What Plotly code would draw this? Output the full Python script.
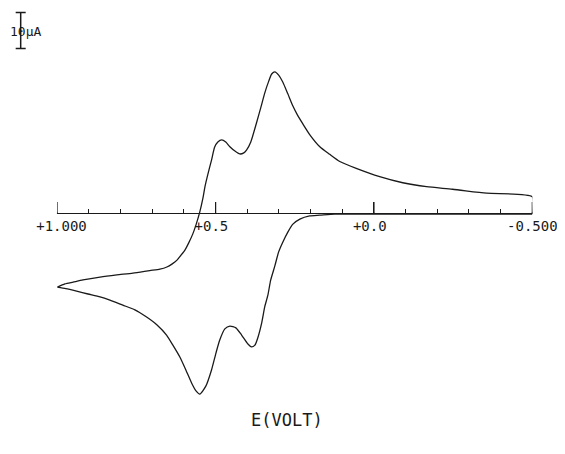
import plotly.graph_objects as go

# Potential (V) and current (uA)
# Reverse (lower) branch: from -0.500 V toward the +1.000 V vertex
E_lower = [-0.500, -0.397, -0.239, -0.081, 0.045, 0.124, 0.171, 0.203, 0.234, 0.256,
           0.272, 0.288, 0.301, 0.313, 0.326, 0.335, 0.345, 0.354, 0.367, 0.376,
           0.387, 0.398, 0.418, 0.436, 0.455, 0.471, 0.487, 0.499, 0.513, 0.531,
           0.550, 0.562, 0.576, 0.594, 0.613, 0.635, 0.655, 0.685, 0.718, 0.755,
           0.793, 0.834, 0.865, 0.903, 0.939, 0.973, 1.000]
I_lower = [-0.3, -0.3, -0.3, -0.3, -0.3, -0.3, -0.6, -0.8, -1.7, -3.1,
           -5.3, -8.1, -10.8, -14.7, -18.6, -22.8, -26.1, -30.3, -34.7, -36.7,
           -37.2, -36.4, -33.9, -31.9, -31.4, -32.2, -35.3, -38.9, -43.6, -48.1,
           -50.3, -49.4, -47.2, -43.6, -40.0, -36.7, -33.9, -31.1, -28.9, -26.9,
           -25.6, -24.2, -23.3, -22.5, -21.7, -21.0, -20.6]

# Forward (upper) branch: from the +1.000 V vertex back to -0.500 V
E_upper = [1.000, 0.976, 0.950, 0.919, 0.865, 0.812, 0.761, 0.708, 0.676, 0.654,
           0.638, 0.622, 0.610, 0.597, 0.585, 0.572, 0.562, 0.550, 0.540, 0.534,
           0.525, 0.513, 0.503, 0.493, 0.481, 0.468, 0.455, 0.439, 0.424, 0.411,
           0.402, 0.389, 0.371, 0.357, 0.345, 0.332, 0.323, 0.313, 0.301, 0.288,
           0.272, 0.256, 0.241, 0.225, 0.203, 0.171, 0.140, 0.108, 0.056, -0.018,
           -0.091, -0.166, -0.248, -0.356, -0.500, -0.500]
I_upper = [-20.6, -19.7, -19.2, -18.6, -17.8, -17.2, -16.7, -16.0, -15.6, -15.0,
           -14.2, -13.1, -11.8, -10.3, -8.3, -5.8, -3.3, 0.3, 4.2, 7.2,
           10.6, 14.7, 18.3, 19.7, 20.3, 19.7, 18.4, 17.2, 16.4, 16.7,
           17.5, 19.7, 25.0, 29.4, 33.3, 36.7, 38.6, 39.2, 38.3, 36.4,
           33.1, 29.7, 27.1, 24.8, 21.8, 18.4, 16.3, 14.3, 12.4, 10.1,
           8.4, 7.3, 6.6, 5.5, 4.5, -0.3]

NB = "\u00a0"
major_vals = [1.0, 0.5, 0.0, -0.5]
major_text = [NB + "+1.000", "+0.5" + NB, "+0.0" + NB, "-0.500"]
minor_vals = [0.9, 0.8, 0.7, 0.6, 0.4, 0.3, 0.2, 0.1,
              -0.1, -0.2, -0.3, -0.4]
major_base = [0, 0, 0, 0]

scale_E = [1.1156]
scale_I = [50.7]
scale_half = [5]   # 10 uA scale bar

FONT = "DejaVu Sans Mono"
INK = "#1a1a1a"

W, H = 557, 446
AX_POS = 0.54035
MAJOR_TICK_UA = 3.05

fig = go.Figure()
fig.add_trace(go.Scatter(x=E_lower, y=I_lower, mode="lines",
                         line=dict(color=INK, width=1.3, shape="spline", smoothing=0.6),
                         showlegend=False, hoverinfo="skip"))
fig.add_trace(go.Scatter(x=E_upper, y=I_upper, mode="lines",
                         line=dict(color=INK, width=1.3, shape="spline", smoothing=0.6),
                         showlegend=False, hoverinfo="skip"))
# taller major ticks on the potential axis
fig.add_trace(go.Scatter(x=major_vals, y=major_base, mode="markers", cliponaxis=False,
                         marker=dict(size=1, color=INK),
                         error_y=dict(type="data", symmetric=False,
                                      array=[MAJOR_TICK_UA] * len(major_vals),
                                      arrayminus=[0] * len(major_vals),
                                      visible=True, color=INK, thickness=1.2, width=0),
                         showlegend=False, hoverinfo="skip"))
fig.add_trace(go.Scatter(x=scale_E, y=scale_I, mode="markers", xaxis="x2", yaxis="y",
                         marker=dict(size=1, color=INK),
                         error_y=dict(type="data", array=scale_half, visible=True,
                                      color=INK, thickness=1.5, width=5),
                         showlegend=False, hoverinfo="skip"))

fig.update_layout(
    width=W, height=H,
    margin=dict(l=0, r=0, t=0, b=0, pad=0),
    paper_bgcolor="white", plot_bgcolor="rgba(0,0,0,0)",
    font=dict(family=FONT, color=INK),
    xaxis=dict(
        domain=[49.3 / W, 524.3 / W],
        range=[1.0, -0.5], automargin=False,
        anchor="free", position=AX_POS,
        showline=True, linecolor=INK, linewidth=1.3,
        showgrid=False, zeroline=False,
        tickmode="array", tickvals=major_vals, ticktext=major_text,
        ticks="inside", ticklen=11, tickwidth=1.2, tickcolor=INK,
        tickfont=dict(family=FONT, size=14, color=INK),
        minor=dict(tickmode="array", tickvals=minor_vals, ticks="inside",
                   ticklen=4, tickwidth=1.1, tickcolor=INK, showgrid=False),
    ),
    xaxis2=dict(
        domain=[0, 1], range=[1.15568, -0.60326], anchor="y", automargin=False,
        visible=False, showgrid=False, zeroline=False,
    ),
    yaxis=dict(
        domain=[0, 1], range=[-66.94, 56.94], automargin=False,
        visible=False, showgrid=False, zeroline=False,
    ),
    annotations=[
        dict(text="10µA", x=17 / W, y=1 - 23.7 / H, xref="paper", yref="paper",
             xanchor="center", yanchor="middle", showarrow=False,
             font=dict(family=FONT, size=13, color=INK)),
        dict(text="E(VOLT)", x=279 / W, y=1 - 412 / H, xref="paper", yref="paper",
             xanchor="center", yanchor="middle", showarrow=False,
             font=dict(family=FONT, size=17, color=INK)),
    ],
)

fig.write_html("out.html")
